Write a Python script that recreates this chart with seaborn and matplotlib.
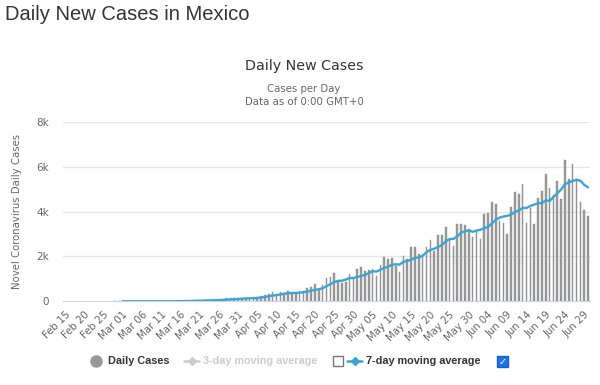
import pandas as pd
import matplotlib.pyplot as plt
from matplotlib.lines import Line2D
from matplotlib.patches import Rectangle
import seaborn as sns

# Daily new cases in Mexico, Feb 15 - Jun 30 2020 (no reports before Feb 28)
feb_cases = [None] * 13 + [1, 3]
mar_cases = [1, 0, 0, 0, 0, 1, 1, 0, 0, 0, 1, 4, 4, 10, 15, 12, 29, 11, 25, 46,
             39, 48, 65, 51, 38, 70, 110, 132, 131, 145, 101]
apr_cases = [121, 163, 132, 178, 202, 253, 296, 346, 396, 260, 403, 375, 442, 353,
             385, 448, 450, 578, 622, 764, 511, 729, 1043, 1089, 1239, 970, 835,
             852, 1223, 1047]
may_cases = [1425, 1515, 1349, 1383, 1434, 1120, 1609, 1982, 1906, 1938, 1562, 1305,
             1997, 1862, 2409, 2437, 2112, 2075, 2414, 2713, 2248, 2973, 2960, 3329,
             2764, 2485, 3455, 3463, 3377, 3227, 2885]
jun_cases = [3152, 2771, 3891, 3912, 4442, 4346, 3593, 3484, 2999, 4199, 4883, 4790,
             5222, 3494, 4147, 3427, 4599, 4930, 5662, 5030, 4717, 5343, 4577, 6288,
             5437, 6104, 5441, 4410, 4050, 3805]

y_ticks = [0, 2000, 4000, 6000, 8000]
y_tick_labels = ['0', '2k', '4k', '6k', '8k']

cases = feb_cases + mar_cases + apr_cases + may_cases + jun_cases
dates = pd.date_range('2020-02-15', periods=len(cases), freq='D')
df = pd.DataFrame({'date': dates, 'cases': pd.array(cases, dtype='Float64').astype(float)})
df['pos'] = range(len(df))
df['ma7'] = df['cases'].rolling(7, min_periods=3).mean()

sns.set_style('white')
plt.rcParams['font.family'] = ['DejaVu Sans']

W, H = 600, 385
fig = plt.figure(figsize=(W / 100, H / 100), dpi=100)


def fx(x):
    return x / W


def fy(y):
    return 1 - y / H


ax = fig.add_axes([fx(63), fy(301.3), fx(590) - fx(63), fy(121.7) - fy(301.3)])

sns.barplot(data=df, x='pos', y='cases', color='#999999', saturation=1,
            width=0.42, errorbar=None, ax=ax, zorder=2,
            edgecolor='#8c8c8c', linewidth=0.3)
sns.lineplot(data=df, x='pos', y='ma7', color='#3aa5d3', linewidth=1.7,
             ax=ax, zorder=3)

ax.set_xlim(-0.5, len(df) - 0.5)
ax.set_ylim(0, 8000)
ax.set_yticks(y_ticks)
ax.set_yticklabels(y_tick_labels)
ticks = list(range(0, len(df), 5))
ax.set_xticks(ticks)
ax.set_xticklabels(df['date'].iloc[ticks].dt.strftime('%b %d'), rotation=45,
                   ha='right', rotation_mode='anchor')
ax.tick_params(axis='x', length=0, pad=6, labelsize=7.3, labelcolor='#666666')
ax.tick_params(axis='y', length=0, pad=10, labelsize=7.5, labelcolor='#666666')
ax.grid(axis='y', color='#e6e6e6', linewidth=1)
ax.set_axisbelow(True)
for s in ['top', 'right', 'left']:
    ax.spines[s].set_visible(False)
ax.spines['bottom'].set_color('#ccd6eb')
ax.set_xlabel('')
ax.set_ylabel('')
fig.text(fx(17), fy(211), 'Novel Coronavirus Daily Cases', fontsize=7.3,
         color='#666666', rotation=90, ha='center', va='center')

# titles
fig.text(fx(5), fy(15), 'Daily New Cases in Mexico', fontsize=14.5,
         family='Liberation Sans', color='#333333', va='center', ha='left')
fig.text(fx(304), fy(66), 'Daily New Cases', fontsize=10.3, color='#333333',
         ha='center', va='center')
fig.text(fx(304), fy(89), 'Cases per Day', fontsize=7.3, color='#666666',
         ha='center', va='center')
fig.text(fx(304), fy(102), 'Data as of 0:00 GMT+0', fontsize=7.3,
         color='#666666', ha='center', va='center')

# legend
ly = fy(361)
lfont = dict(fontsize=7.8, weight='bold', family='Liberation Sans', va='center')
fig.add_artist(Line2D([fx(96)], [ly], marker='o', markersize=8, color='#999999',
                      linestyle='none', transform=fig.transFigure))
fig.text(fx(108), ly, 'Daily Cases', color='#333333', **lfont)
fig.add_artist(Line2D([fx(184), fx(199)], [ly, ly], color='#cccccc', linewidth=1.8,
                      transform=fig.transFigure))
fig.add_artist(Line2D([fx(191.5)], [ly], marker='D', markersize=4, color='#cccccc',
                      transform=fig.transFigure))
fig.text(fx(203), ly, '3-day moving average', color='#cccccc', **lfont)
fig.add_artist(Rectangle((fx(333), fy(366)), fx(10), fy(356) - fy(366),
                         facecolor='white', edgecolor='#777777', linewidth=1,
                         transform=fig.transFigure))
fig.add_artist(Line2D([fx(347), fx(362)], [ly, ly], color='#3aa5d3', linewidth=1.8,
                      transform=fig.transFigure))
fig.add_artist(Line2D([fx(354.5)], [ly], marker='D', markersize=4, color='#3aa5d3',
                      transform=fig.transFigure))
fig.text(fx(366), ly, '7-day moving average', color='#333333', **lfont)
fig.add_artist(Rectangle((fx(497), fy(367)), fx(11), fy(356) - fy(367),
                         facecolor='#1a73e8', edgecolor='#1a5fc0', linewidth=1,
                         transform=fig.transFigure))
fig.text(fx(502.5), fy(361.5), '\u2713', fontsize=7, color='white', weight='bold',
         ha='center', va='center')

fig.savefig('out.png', dpi=100)
